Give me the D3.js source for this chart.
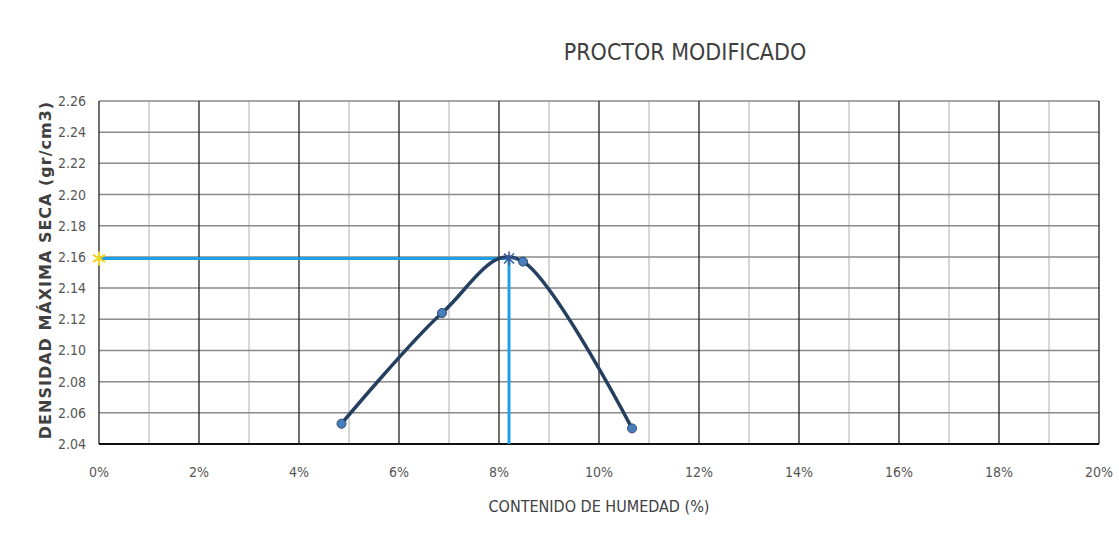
<!DOCTYPE html>
<html><head><meta charset="utf-8">
<script src="https://cdn.jsdelivr.net/npm/d3@7"></script>
<style>body{margin:0;background:#fff}svg{display:block}</style>
</head><body><svg id="c" width="1119" height="538"></svg>
<script>
const title = "PROCTOR MODIFICADO";
const xTitle = "CONTENIDO DE HUMEDAD (%)";
const yTitle = "DENSIDAD MÁXIMA SECA (gr/cm3)";
const humedad = [4.85, 6.86, 8.48, 10.66];
const densidad = [2.053, 2.124, 2.157, 2.050];
const optHumedad = [8.2];
const optDensidad = [2.159];
const xTicks = [0,2,4,6,8,10,12,14,16,18,20];
const xMinor = [1,3,5,7,9,11,13,15,17,19];
const yTicks = [2.04,2.06,2.08,2.10,2.12,2.14,2.16,2.18,2.20,2.22,2.24,2.26];

const svg = d3.select("#c");
const x = d3.scaleLinear().domain([0,20]).range([99,1099]);
const y = d3.scaleLinear().domain([2.04,2.26]).range([444,101]);
const font = "'Liberation Sans Narrow','DejaVu Sans Condensed',sans-serif";

svg.append("g").selectAll("line").data(xMinor).join("line")
  .attr("x1",d=>x(d)).attr("x2",d=>x(d)).attr("y1",y(2.26)).attr("y2",y(2.04))
  .attr("stroke","#c8c8c8").attr("stroke-width",1.5);
svg.append("g").selectAll("line").data(yTicks).join("line")
  .attr("x1",x(0)).attr("x2",x(20)).attr("y1",d=>y(d)).attr("y2",d=>y(d))
  .attr("stroke","#8a8a8a").attr("stroke-width",1.5);
svg.append("g").selectAll("line").data(xTicks).join("line")
  .attr("x1",d=>x(d)).attr("x2",d=>x(d)).attr("y1",y(2.26)).attr("y2",y(2.04))
  .attr("stroke","#222").attr("stroke-width",1.3);
svg.append("line").attr("x1",x(0)).attr("x2",x(20)).attr("y1",y(2.04)).attr("y2",y(2.04))
  .attr("stroke","#111").attr("stroke-width",2);

svg.append("g").selectAll("text").data(yTicks).join("text")
  .attr("x",86).attr("y",d=>y(d)+5).attr("text-anchor","end")
  .attr("font-family",font).attr("font-size",14).attr("fill","#555")
  .text(d=>d.toFixed(2));
svg.append("g").selectAll("text").data(xTicks).join("text")
  .attr("x",d=>x(d)).attr("y",477).attr("text-anchor","middle")
  .attr("font-family",font).attr("font-size",14).attr("fill","#555")
  .text(d=>d+"%");

svg.append("text").attr("x",685).attr("y",60).attr("text-anchor","middle")
  .attr("font-family",font).attr("font-size",23).attr("fill","#404040").text(title);
svg.append("text").attr("x",599).attr("y",512).attr("text-anchor","middle")
  .attr("font-family",font).attr("font-size",16).attr("fill","#404040").text(xTitle);
svg.append("text").attr("transform","translate(51,270) rotate(-90)").attr("text-anchor","middle")
  .attr("font-family","'DejaVu Sans',sans-serif").attr("font-size",16).attr("letter-spacing",1)
  .attr("font-weight","bold").attr("fill","#404040").text(yTitle);

svg.append("line").attr("x1",x(0)).attr("x2",x(optHumedad[0])).attr("y1",y(optDensidad[0])).attr("y2",y(optDensidad[0]))
  .attr("stroke","#1ea0e6").attr("stroke-width",3);
svg.append("line").attr("x1",x(optHumedad[0])).attr("x2",x(optHumedad[0])).attr("y1",y(optDensidad[0])).attr("y2",y(2.04))
  .attr("stroke","#1ea0e6").attr("stroke-width",3);

const pts = humedad.map((h,i)=>[h,densidad[i]]);
svg.append("path").datum(pts)
  .attr("d",d3.line().x(d=>x(d[0])).y(d=>y(d[1])).curve(d3.curveCatmullRom.alpha(0)))
  .attr("fill","none").attr("stroke","#243f60").attr("stroke-width",3.5);
svg.append("g").selectAll("circle").data(pts).join("circle")
  .attr("cx",d=>x(d[0])).attr("cy",d=>y(d[1])).attr("r",4.5)
  .attr("fill","#4a7ebb").attr("stroke","#2a4a70").attr("stroke-width",1);

function star(cx,cy,r,color,w){
  const g = svg.append("g");
  [0,45,90,135].forEach(a=>{
    const t=a*Math.PI/180;
    g.append("line").attr("x1",cx-r*Math.cos(t)).attr("y1",cy-r*Math.sin(t))
      .attr("x2",cx+r*Math.cos(t)).attr("y2",cy+r*Math.sin(t))
      .attr("stroke",color).attr("stroke-width",w);
  });
}
star(x(optHumedad[0]),y(optDensidad[0]),7,"#3a5a9a",1.5);
function xstar(cx,cy,r,color,w){
  const g = svg.append("g");
  [30,150,90].forEach(a=>{
    const t=a*Math.PI/180;
    g.append("line").attr("x1",cx-r*Math.cos(t)).attr("y1",cy-r*Math.sin(t))
      .attr("x2",cx+r*Math.cos(t)).attr("y2",cy+r*Math.sin(t))
      .attr("stroke",color).attr("stroke-width",w);
  });
}
xstar(x(0),y(optDensidad[0]),7,"#f2d21a",2);
</script></body></html>
